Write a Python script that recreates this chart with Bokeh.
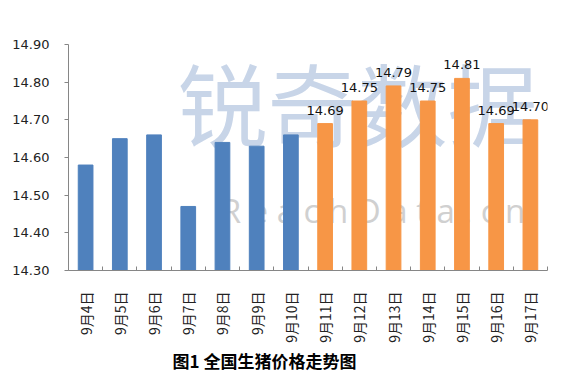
import math
from bokeh.plotting import figure
from bokeh.models import (ColumnDataSource, FixedTicker, LabelSet, Label, Title,
                          Range1d, CustomJSTickFormatter, NumeralTickFormatter)
from bokeh.core.properties import value
from bokeh.embed import file_html
from bokeh.resources import INLINE

dates = ["9月4日", "9月5日", "9月6日", "9月7日", "9月8日", "9月9日", "9月10日",
         "9月11日", "9月12日", "9月13日", "9月14日", "9月15日", "9月16日", "9月17日"]
prices = [14.58, 14.65, 14.66, 14.47, 14.64, 14.63, 14.66,
          14.69, 14.75, 14.79, 14.75, 14.81, 14.69, 14.70]
labeled_from = 7
y_ticks = [14.30, 14.40, 14.50, 14.60, 14.70, 14.80, 14.90]
title_text = "图1 全国生猪价格走势图"

BLUE = "#4F81BD"
ORANGE = "#F79646"

n = len(dates)
xs = [i + 0.5 for i in range(n)]
cols = [BLUE if i < labeled_from else ORANGE for i in range(n)]
src = ColumnDataSource(dict(x=xs, top=prices, color=cols))
lab_src = ColumnDataSource(dict(x=xs[labeled_from:], y=prices[labeled_from:],
                                txt=["%.2f" % v for v in prices[labeled_from:]]))

p = figure(width=562, height=372, output_backend="svg", toolbar_location=None,
           x_range=Range1d(0, n), y_range=Range1d(14.30, 14.90),
           min_border_left=68, min_border_right=15, min_border_top=44, min_border_bottom=100)
p.grid.visible = False
p.outline_line_color = None
p.background_fill_color = "white"
p.border_fill_color = "white"

# watermarks
wm1 = Label(x=8.45, y=14.75, text="锐奇数据", text_font="Noto Sans CJK SC",
            text_font_size="90px", text_color="#c8d5e8", text_align="center",
            text_baseline="middle", level="underlay")
wm2 = Label(x=8.9, y=14.46, text="R e a c h D a t a . c n", text_font="Open Sans",
            text_font_size="33px", text_color="#d0d0d0", text_align="center",
            text_baseline="middle", level="underlay")
for w in (wm1, wm2):
    p.add_layout(w)

p.vbar(x="x", top="top", bottom=14.30, width=0.43, color="color", source=src)

p.add_layout(LabelSet(x="x", y="y", text="txt", source=lab_src, text_align="center",
                      text_baseline="bottom", y_offset=9,
                      text_font=value("DejaVu Sans"), text_font_size=value("13px"),
                      text_color="#111111"))

# y axis
ya = p.yaxis[0]
ya.ticker = FixedTicker(ticks=y_ticks)
ya.formatter = NumeralTickFormatter(format="0.00")
ya.major_label_text_font = "DejaVu Sans"
ya.major_label_text_font_size = "13px"
ya.major_label_text_color = "#222222"
ya.axis_line_color = "#868686"
ya.major_tick_line_color = "#868686"
ya.major_tick_in = 0
ya.major_tick_out = 4
ya.minor_tick_line_color = None
ya.major_label_standoff = 15

# x axis
xa = p.xaxis[0]
xa.ticker = FixedTicker(ticks=xs, minor_ticks=list(range(n + 1)))
xa.formatter = CustomJSTickFormatter(args=dict(labels=dates),
                                     code="return labels[Math.floor(tick)];")
xa.major_label_orientation = math.pi / 2
xa.major_label_text_font = "Noto Sans CJK SC"
xa.major_label_text_font_size = "14px"
xa.major_label_text_color = "#222222"
xa.major_tick_line_color = None
xa.minor_tick_line_color = "#868686"
xa.minor_tick_in = 4
xa.minor_tick_out = 0
xa.axis_line_color = "#868686"
xa.major_label_standoff = 15

t = Title(text=title_text, align="left", text_font="Noto Sans CJK SC",
          text_font_size="17px", text_font_style="bold", text_color="#000000",
          offset=104, standoff=0)
p.add_layout(t, "below")

open("out.html", "w").write(file_html(p, INLINE))
